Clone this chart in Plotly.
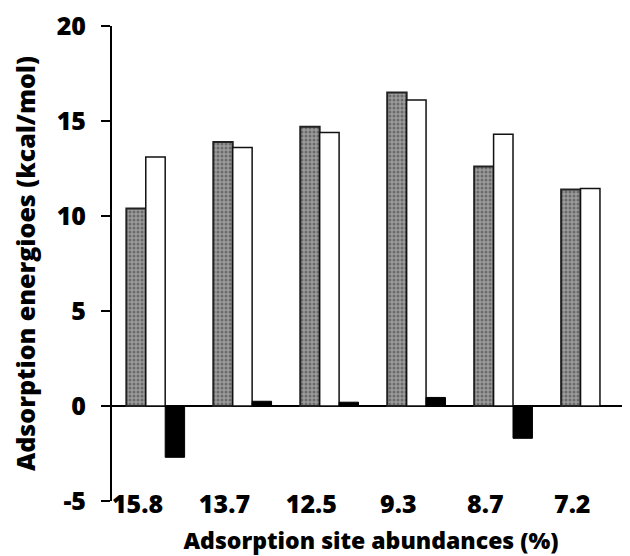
import plotly.graph_objects as go

categories = ["15.8", "13.7", "12.5", "9.3", "8.7", "7.2"]
series_gray = [10.4, 13.9, 14.7, 16.5, 12.6, 11.4]
series_white = [13.1, 13.6, 14.4, 16.1, 14.3, 11.45]
series_black = [-2.7, 0.25, 0.2, 0.45, -1.7, 0.0]
y_tickvals = [-5, 0, 5, 10, 15, 20]
y_ticktext = ["-5", "0", "5", "10", "15", "20"]

FONT = "Open Sans"
FS = 25
W = 800

fig = go.Figure()
fig.add_trace(go.Bar(
    x=categories, y=series_gray,
    marker=dict(color="#8c8c8c",
                line=dict(color="#222222", width=2),
                pattern=dict(shape=".", bgcolor="#9c9c9c", fgcolor="#3a3a3a",
                             size=4, solidity=0.45, fillmode="overlay")),
))
fig.add_trace(go.Bar(
    x=categories, y=series_white,
    marker=dict(color="white", line=dict(color="#111111", width=1.5)),
))
fig.add_trace(go.Bar(
    x=categories, y=series_black,
    marker=dict(color="black", line=dict(color="black", width=1)),
))

# the page has an 8px body margin, so the figure is laid out 8px smaller
fig.update_layout(
    width=622, height=548,
    margin=dict(l=104, r=0, t=18, b=55, autoexpand=False),
    paper_bgcolor="white", plot_bgcolor="white",
    barmode="group", bargap=0.33, bargroupgap=0,
    showlegend=False,
    font=dict(family=FONT, color="black"),
)
fig.update_xaxes(
    range=[-0.5, 5.457], automargin=False,
    showline=False, showgrid=False, ticks="",
    tickfont=dict(size=FS, family=FONT, weight=W),
    ticklabelstandoff=-14, ticklabelshift=-18, ticklabeloverflow="allow",
    title=dict(text="Adsorption site abundances (%)",
               font=dict(size=23, family=FONT, weight=W), standoff=13),
)
fig.update_yaxes(
    range=[-5, 20], tickvals=y_tickvals, ticktext=y_ticktext, automargin=False,
    showline=True, linecolor="black", linewidth=2,
    ticks="outside", ticklen=9, tickwidth=2, tickcolor="black",
    showgrid=False,
    zeroline=True, zerolinecolor="black", zerolinewidth=2,
    tickfont=dict(size=FS, family=FONT, weight=W),
    ticklabelstandoff=10, ticklabeloverflow="allow",
    title=dict(text="Adsorption energioes (kcal/mol)",
               font=dict(size=25, family=FONT, weight=W), standoff=16),
)

fig.write_html("out.html")
